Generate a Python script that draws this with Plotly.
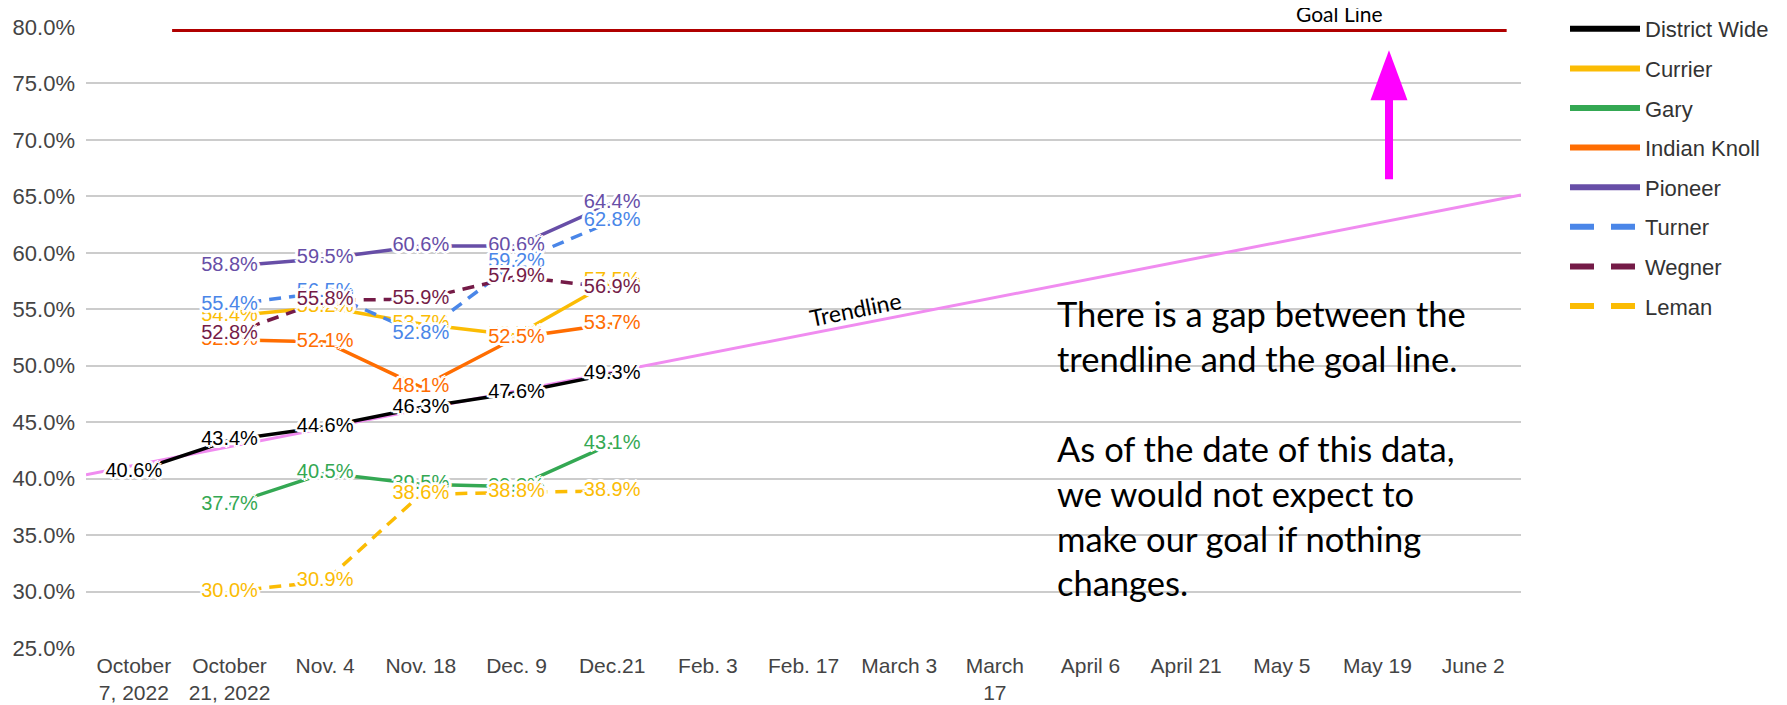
import numpy as np
import plotly.graph_objects as go

# ---------------- data ----------------
categories = ["October<br>7, 2022", "October<br>21, 2022", "Nov. 4", "Nov. 18", "Dec. 9",
              "Dec.21", "Feb. 3", "Feb. 17", "March 3", "March<br>17", "April 6",
              "April 21", "May 5", "May 19", "June 2"]

district_wide = [40.6, 43.4, 44.6, 46.3, 47.6, 49.3]
currier       = [None, 54.4, 55.2, 53.7, 52.7, 57.5]
gary          = [None, 37.7, 40.5, 39.5, 39.3, 43.1]
indian_knoll  = [None, 52.3, 52.1, 48.1, 52.5, 53.7]
pioneer       = [None, 58.8, 59.5, 60.6, 60.6, 64.4]
turner        = [None, 55.4, 56.5, 52.8, 59.2, 62.8]
wegner        = [None, 52.8, 55.8, 55.9, 57.9, 56.9]
leman         = [None, 30.0, 30.9, 38.6, 38.8, 38.9]

goal_value = 79.7
y_ticks = [25, 30, 35, 40, 45, 50, 55, 60, 65, 70, 75, 80]

series = [
    ("District Wide", district_wide, "#000000", "solid"),
    ("Currier", currier, "#fbbc04", "solid"),
    ("Gary", gary, "#34a853", "solid"),
    ("Indian Knoll", indian_knoll, "#ff6d01", "solid"),
    ("Pioneer", pioneer, "#674ea7", "solid"),
    ("Turner", turner, "#4a86e8", "dash"),
    ("Wegner", wegner, "#741b47", "dash"),
    ("Leman", leman, "#fbbc04", "dash"),
]

note_lines = ["There is a gap between the", "trendline and the goal line.", "",
              "As of the date of this data,", "we would not expect to",
              "make our goal if nothing", "changes."]

# ---------------- figure ----------------
FONT = "Liberation Sans"
NOTE_FONT = "Lato"
W, H = 1779, 697   # page body keeps an 8px margin
fig = go.Figure()

# trendline: linear fit of the district-wide values, extended across the axis
xd = np.arange(len(district_wide))
slope, intercept = np.polyfit(xd, district_wide, 1)
tx = np.array([-0.5, len(categories) - 0.5])
fig.add_trace(go.Scatter(x=tx, y=slope * tx + intercept, mode="lines",
                         line=dict(color="#f08cf0", width=3),
                         showlegend=False, hoverinfo="skip"))

for name, vals, color, dash in series:
    x = list(range(len(vals)))
    fig.add_trace(go.Scatter(x=x, y=vals, mode="lines", name=name,
                             line=dict(color=color, width=3.5,
                                       dash="solid" if dash == "solid" else "12px,8px"),
                             showlegend=False))

# legend entries (thicker line like the reference legend)
for name, vals, color, dash in series:
    fig.add_trace(go.Scatter(x=[None], y=[None], mode="lines", name=name,
                             legendgroup=name,
                             line=dict(color=color, width=6,
                                       dash="solid" if dash == "solid" else "24px,17px"),
                             showlegend=True))

halo = ("3px 0 0 white, -3px 0 0 white, 0 3px 0 white, 0 -3px 0 white, "
        "2px 2px 0 white, -2px -2px 0 white, 2px -2px 0 white, -2px 2px 0 white, "
        "1px 0 0 white, -1px 0 0 white, 0 1px 0 white, 0 -1px 0 white")
for name, vals, color, dash in series:
    x = list(range(len(vals)))
    txt = ["" if v is None else f"{v:.1f}%" for v in vals]
    fig.add_trace(go.Scatter(x=x, y=vals, mode="text", text=txt,
                             textposition="middle center",
                             textfont=dict(family=FONT, size=20, color=color, shadow=halo),
                             showlegend=False, hoverinfo="skip", cliponaxis=False))

# goal line
fig.add_shape(type="line", x0=0.4, x1=14.35, y0=goal_value, y1=goal_value,
              xref="x", yref="y", line=dict(color="#b00000", width=3), layer="above")

# magenta arrow (pixel-sized, anchored in data space)
ax_, ay_ = 13.12, 77.94
fig.add_shape(type="path", xref="x", yref="y", xsizemode="pixel", ysizemode="pixel",
              xanchor=ax_, yanchor=ay_, path="M0,0 L-18.5,-50 L18.5,-50 Z",
              fillcolor="#ff00ff", line=dict(color="#ff00ff", width=0), layer="above")
fig.add_shape(type="rect", xref="x", yref="y", xsizemode="pixel", ysizemode="pixel",
              xanchor=ax_, yanchor=ay_, x0=-4, x1=4, y0=-49, y1=-129,
              fillcolor="#ff00ff", line=dict(color="#ff00ff", width=0), layer="above")

annotations = [
    dict(x=12.6, y=1.021, xref="x", yref="paper", text="Goal Line", showarrow=False,
         yanchor="middle", borderpad=0,
         font=dict(family=NOTE_FONT, size=21, color="#000000")),
    dict(x=7.54, y=55.0, xref="x", yref="y", text="Trendline", showarrow=False,
         textangle=-11.5, font=dict(family=NOTE_FONT, size=23, color="#000000")),
]
note_y = [54.63, 50.65, 46.66, 42.68, 38.70, 34.71, 30.81]
for line, yy in zip(note_lines, note_y):
    if line:
        annotations.append(dict(x=9.63, y=yy, xref="x", yref="y", text=line,
                                showarrow=False, xanchor="left", yanchor="middle",
                                font=dict(family=NOTE_FONT, size=34.5, color="#000000")))

fig.update_layout(
    width=W, height=H,
    margin=dict(l=78, r=266, t=19, b=57, autoexpand=False),
    plot_bgcolor="white", paper_bgcolor="white",
    font=dict(family=FONT, size=20, color="#444444"),
    annotations=annotations,
    showlegend=True,
    legend=dict(xref="container", yref="container", x=1557 / W, y=1.0,
                xanchor="left", yanchor="top", traceorder="grouped",
                tracegroupgap=8, itemwidth=70,
                font=dict(family=FONT, size=22, color="#333333"),
                bgcolor="rgba(0,0,0,0)"),
    xaxis=dict(range=[-0.5, len(categories) - 0.5], tickvals=list(range(len(categories))),
               ticktext=categories, showgrid=False, zeroline=False, showline=False,
               ticklabelstandoff=3,
               tickfont=dict(family=FONT, size=21, color="#444444")),
    yaxis=dict(range=[25, 80], tickvals=y_ticks, ticktext=[f"{v:.1f}%" for v in y_ticks],
               showgrid=True, gridcolor="#cccccc", gridwidth=1.5, zeroline=False,
               showline=False, ticklabelstandoff=10,
               tickfont=dict(family=FONT, size=22, color="#444444")),
)

fig.write_html("out.html")
